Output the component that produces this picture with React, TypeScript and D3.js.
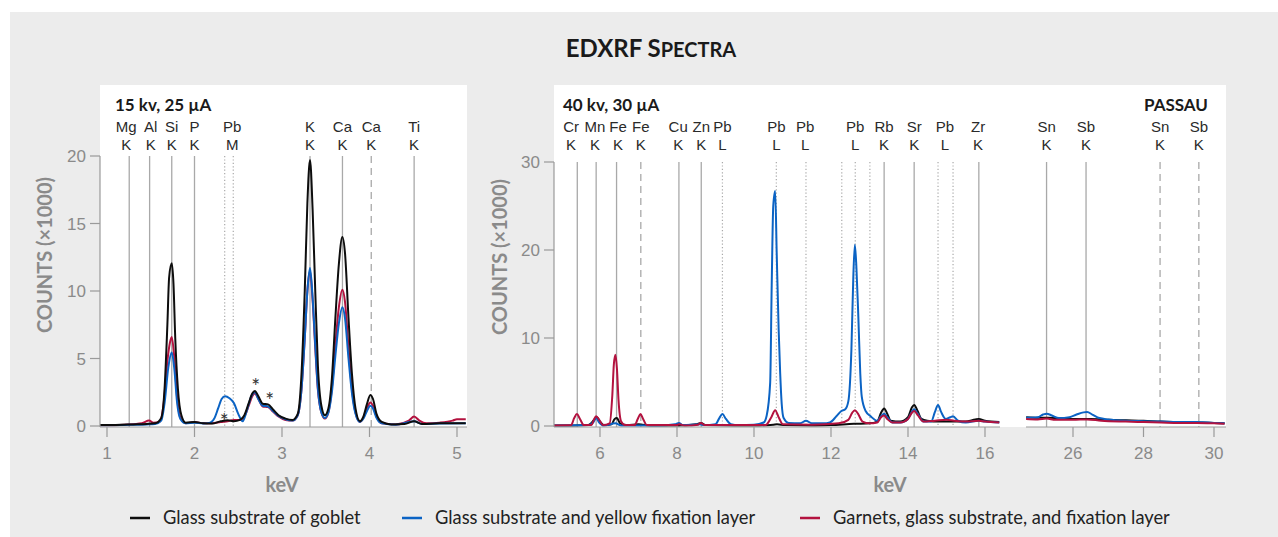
import React from 'react';
import * as d3 from 'd3';

type Pt = [number, number];

// ---------- tick values ----------
const lowKeVTicks = [1, 2, 3, 4, 5];
const lowCountTicks = [0, 5, 10, 15, 20];
const highKeVTicks = [6, 8, 10, 12, 14, 16];
const farKeVTicks = [26, 28, 30];
const highCountTicks = [0, 10, 20, 30];

// ---------- series names / colours ----------
const seriesNames = [
  'Glass substrate of goblet',
  'Glass substrate and yellow fixation layer',
  'Garnets, glass substrate, and fixation layer',
];
const seriesColors = ['#0d0d0d', '#0b63c4', '#b3123f'];

// ---------- 15 kV, 25 µA spectra (keV, counts ×1000) ----------
const lowGlass: Pt[] = [[0.92,0.07],[1.1,0.08],[1.3,0.12],[1.45,0.15],[1.55,0.2],[1.62,0.6],[1.66,3.0],[1.69,7.5],[1.71,11.0],[1.74,12.05],[1.76,10.5],[1.78,6.5],[1.81,2.8],[1.85,0.8],[1.9,0.25],[2.0,0.3],[2.1,0.2],[2.2,0.18],[2.3,0.35],[2.38,0.42],[2.45,0.35],[2.52,0.45],[2.57,0.8],[2.62,1.7],[2.66,2.4],[2.69,2.6],[2.73,2.2],[2.78,1.65],[2.84,1.6],[2.9,1.2],[2.96,0.8],[3.04,0.55],[3.12,0.45],[3.18,0.9],[3.22,3.5],[3.26,10.0],[3.29,16.5],[3.32,19.7],[3.35,16.0],[3.38,10.0],[3.41,4.5],[3.45,1.5],[3.49,0.8],[3.53,1.3],[3.57,3.5],[3.61,8.0],[3.65,12.0],[3.69,14.0],[3.72,12.8],[3.76,8.0],[3.8,3.8],[3.84,1.3],[3.89,0.35],[3.93,0.7],[3.97,1.6],[4.01,2.3],[4.04,2.0],[4.08,0.9],[4.14,0.3],[4.25,0.12],[4.4,0.15],[4.51,0.35],[4.6,0.15],[4.8,0.2],[5.1,0.2]];
const lowYellow: Pt[] = [[0.92,0.05],[1.2,0.08],[1.45,0.12],[1.55,0.15],[1.62,0.4],[1.66,1.8],[1.7,4.3],[1.74,5.45],[1.77,4.2],[1.8,1.8],[1.84,0.5],[1.9,0.2],[2.0,0.25],[2.1,0.18],[2.18,0.25],[2.23,0.6],[2.27,1.3],[2.31,2.0],[2.35,2.2],[2.4,2.05],[2.45,1.7],[2.5,0.9],[2.55,0.35],[2.6,1.2],[2.65,2.2],[2.69,2.5],[2.73,2.0],[2.78,1.5],[2.84,1.45],[2.9,1.1],[2.96,0.75],[3.04,0.5],[3.12,0.4],[3.18,0.8],[3.22,2.5],[3.26,6.5],[3.29,10.0],[3.32,11.7],[3.35,9.5],[3.38,6.0],[3.41,2.8],[3.45,1.0],[3.49,0.6],[3.53,1.0],[3.57,2.5],[3.61,5.2],[3.65,7.6],[3.69,8.8],[3.72,8.0],[3.76,5.0],[3.8,2.4],[3.84,0.9],[3.89,0.3],[3.93,0.55],[3.97,1.1],[4.01,1.5],[4.04,1.3],[4.08,0.6],[4.14,0.2],[4.3,0.1],[4.51,0.35],[4.6,0.15],[4.8,0.18],[5.1,0.2]];
const lowGarnet: Pt[] = [[0.92,0.05],[1.2,0.1],[1.4,0.2],[1.48,0.4],[1.53,0.25],[1.6,0.3],[1.65,1.8],[1.69,4.8],[1.72,6.2],[1.74,6.6],[1.77,5.0],[1.8,2.2],[1.84,0.6],[1.9,0.2],[2.0,0.3],[2.1,0.2],[2.2,0.2],[2.3,0.3],[2.38,0.35],[2.45,0.45],[2.52,0.45],[2.57,0.7],[2.62,1.5],[2.66,2.2],[2.69,2.4],[2.73,2.0],[2.78,1.45],[2.84,1.4],[2.9,1.05],[2.96,0.7],[3.04,0.45],[3.12,0.4],[3.18,0.8],[3.22,2.5],[3.26,6.5],[3.29,10.0],[3.32,11.5],[3.35,9.3],[3.38,5.8],[3.41,2.7],[3.45,1.0],[3.49,0.55],[3.53,1.0],[3.57,2.8],[3.61,6.0],[3.65,8.8],[3.69,10.1],[3.72,9.2],[3.76,5.8],[3.8,2.7],[3.84,1.0],[3.89,0.3],[3.93,0.6],[3.97,1.3],[4.01,1.75],[4.04,1.5],[4.08,0.7],[4.14,0.2],[4.3,0.12],[4.45,0.4],[4.51,0.7],[4.57,0.4],[4.65,0.2],[4.8,0.25],[4.95,0.4],[5.0,0.5],[5.1,0.5]];

// ---------- 40 kV, 30 µA spectra ----------
const highGlass: Pt[] = [[4.8,0.05],[5.3,0.05],[5.7,0.1],[5.85,0.7],[5.92,1.0],[6.0,0.5],[6.1,0.1],[6.3,0.2],[6.38,0.8],[6.44,0.9],[6.52,0.3],[6.7,0.1],[7.0,0.2],[7.1,0.15],[7.5,0.05],[8.0,0.05],[8.5,0.2],[8.62,0.35],[8.75,0.1],[9.5,0.05],[10.0,0.05],[10.5,0.15],[10.6,0.2],[10.8,0.1],[11.5,0.05],[12.0,0.1],[12.6,0.25],[13.0,0.3],[13.2,0.5],[13.3,1.5],[13.38,2.0],[13.46,1.4],[13.55,0.6],[13.8,0.5],[14.0,1.0],[14.1,2.1],[14.16,2.4],[14.25,1.7],[14.35,0.8],[14.5,0.6],[14.8,0.5],[15.2,0.5],[15.5,0.5],[15.75,0.75],[15.84,0.8],[16.0,0.6],[16.37,0.45]];
const highYellow: Pt[] = [[4.8,0.05],[5.7,0.1],[5.82,0.4],[5.9,0.9],[5.98,0.4],[6.1,0.05],[6.4,0.3],[6.55,0.05],[7.5,0.05],[7.95,0.2],[8.05,0.35],[8.15,0.1],[8.6,0.2],[8.7,0.1],[9.0,0.2],[9.1,0.9],[9.18,1.35],[9.27,0.8],[9.4,0.2],[9.6,0.1],[10.0,0.15],[10.25,0.4],[10.33,1.2],[10.42,4.9],[10.46,16],[10.5,25],[10.55,26.7],[10.59,19.6],[10.64,11.0],[10.68,6.0],[10.72,2.5],[10.77,0.9],[10.9,0.35],[11.2,0.3],[11.35,0.6],[11.5,0.3],[11.8,0.3],[11.97,0.4],[12.14,1.1],[12.27,1.7],[12.37,1.9],[12.45,2.8],[12.53,8.7],[12.58,17],[12.62,20.6],[12.66,18],[12.71,12.4],[12.76,6.0],[12.8,3.3],[12.9,1.7],[13.03,1.1],[13.2,0.6],[13.3,1.1],[13.38,1.4],[13.46,1.0],[13.6,0.4],[13.8,0.4],[14.0,0.8],[14.1,1.6],[14.16,1.9],[14.25,1.4],[14.4,0.5],[14.6,0.5],[14.7,1.6],[14.78,2.4],[14.86,1.6],[14.98,0.8],[15.1,1.0],[15.17,1.1],[15.3,0.6],[15.5,0.4],[15.84,0.6],[16.0,0.5],[16.37,0.4]];
const highGarnet: Pt[] = [[4.8,0.05],[5.25,0.1],[5.33,0.9],[5.4,1.35],[5.48,0.8],[5.58,0.1],[5.78,0.1],[5.84,0.7],[5.9,1.1],[5.98,0.7],[6.08,0.1],[6.25,0.3],[6.32,3.5],[6.36,7.0],[6.4,8.1],[6.44,6.5],[6.48,3.0],[6.55,0.5],[6.65,0.1],[6.9,0.1],[6.98,0.8],[7.05,1.35],[7.12,0.8],[7.22,0.1],[8.0,0.1],[8.05,0.2],[8.2,0.05],[8.55,0.15],[8.62,0.35],[8.72,0.1],[10.3,0.1],[10.45,1.0],[10.55,1.8],[10.64,1.0],[10.75,0.2],[11.5,0.15],[12.2,0.3],[12.45,0.7],[12.55,1.5],[12.62,1.8],[12.7,1.4],[12.82,0.5],[13.0,0.3],[13.2,0.4],[13.3,1.0],[13.38,1.2],[13.46,0.8],[13.6,0.4],[13.8,0.4],[14.0,0.8],[14.1,1.5],[14.16,1.7],[14.26,1.2],[14.4,0.5],[14.7,0.6],[15.0,0.7],[15.2,0.6],[15.5,0.5],[15.84,0.6],[16.0,0.5],[16.37,0.4]];
const farGlass: Pt[] = [[24.67,1.0],[25.0,0.95],[25.3,0.95],[25.6,0.85],[26.0,0.8],[26.5,0.8],[27.0,0.7],[27.5,0.65],[28.0,0.6],[28.5,0.5],[29.0,0.45],[29.5,0.4],[30.0,0.35],[30.3,0.3]];
const farYellow: Pt[] = [[24.67,0.95],[25.0,1.0],[25.15,1.3],[25.25,1.4],[25.4,1.2],[25.6,0.9],[25.9,1.0],[26.1,1.3],[26.3,1.55],[26.4,1.6],[26.55,1.3],[26.75,0.9],[27.0,0.75],[27.5,0.6],[28.0,0.55],[28.5,0.5],[29.0,0.45],[29.5,0.45],[30.0,0.35],[30.3,0.3]];
const farGarnet: Pt[] = [[24.67,0.8],[25.0,0.75],[25.25,0.85],[25.5,0.7],[26.0,0.7],[26.4,0.75],[26.8,0.6],[27.5,0.5],[28.0,0.45],[28.5,0.4],[29.0,0.35],[29.5,0.35],[30.0,0.3],[30.3,0.25]];

// ---------- emission lines (keV) ----------
type RefLine = { e: number; kind: 'solid' | 'dashed' | 'dotted' };
type RefLabel = { top: string; bottom: string; e: number };
const lowLines: RefLine[] = [
  { e: 1.254, kind: 'solid' }, { e: 1.487, kind: 'solid' }, { e: 1.74, kind: 'solid' },
  { e: 2.0, kind: 'solid' }, { e: 2.345, kind: 'dotted' }, { e: 2.443, kind: 'dotted' },
  { e: 3.32, kind: 'solid' }, { e: 3.691, kind: 'solid' }, { e: 4.02, kind: 'dashed' },
  { e: 4.51, kind: 'solid' },
];
const lowLabels: RefLabel[] = [
  { top: 'Mg', bottom: 'K', e: 1.22 }, { top: 'Al', bottom: 'K', e: 1.5 },
  { top: 'Si', bottom: 'K', e: 1.74 }, { top: 'P', bottom: 'K', e: 2.0 },
  { top: 'Pb', bottom: 'M', e: 2.43 }, { top: 'K', bottom: 'K', e: 3.32 },
  { top: 'Ca', bottom: 'K', e: 3.691 }, { top: 'Ca', bottom: 'K', e: 4.02 },
  { top: 'Ti', bottom: 'K', e: 4.51 },
];
const highLines: RefLine[] = [
  { e: 5.41, kind: 'solid' }, { e: 5.9, kind: 'solid' }, { e: 6.43, kind: 'solid' },
  { e: 7.06, kind: 'dashed' }, { e: 8.05, kind: 'solid' }, { e: 8.63, kind: 'solid' },
  { e: 9.18, kind: 'dotted' }, { e: 10.58, kind: 'dotted' }, { e: 11.35, kind: 'dotted' },
  { e: 12.28, kind: 'dotted' }, { e: 12.63, kind: 'dotted' }, { e: 13.01, kind: 'dotted' },
  { e: 13.38, kind: 'solid' }, { e: 14.16, kind: 'solid' }, { e: 14.78, kind: 'dotted' },
  { e: 15.17, kind: 'dotted' }, { e: 15.84, kind: 'solid' },
];
const highLabels: RefLabel[] = [
  { top: 'Cr', bottom: 'K', e: 5.25 }, { top: 'Mn', bottom: 'K', e: 5.87 },
  { top: 'Fe', bottom: 'K', e: 6.47 }, { top: 'Fe', bottom: 'K', e: 7.06 },
  { top: 'Cu', bottom: 'K', e: 8.03 }, { top: 'Zn', bottom: 'K', e: 8.63 },
  { top: 'Pb', bottom: 'L', e: 9.18 }, { top: 'Pb', bottom: 'L', e: 10.58 },
  { top: 'Pb', bottom: 'L', e: 11.33 }, { top: 'Pb', bottom: 'L', e: 12.63 },
  { top: 'Rb', bottom: 'K', e: 13.38 }, { top: 'Sr', bottom: 'K', e: 14.16 },
  { top: 'Pb', bottom: 'L', e: 14.96 }, { top: 'Zr', bottom: 'K', e: 15.82 },
];
const farLines: RefLine[] = [
  { e: 25.25, kind: 'solid' }, { e: 26.37, kind: 'solid' },
  { e: 28.47, kind: 'dashed' }, { e: 29.57, kind: 'dashed' },
];
const farLabels: RefLabel[] = [
  { top: 'Sn', bottom: 'K', e: 25.25 }, { top: 'Sb', bottom: 'K', e: 26.37 },
  { top: 'Sn', bottom: 'K', e: 28.47 }, { top: 'Sb', bottom: 'K', e: 29.57 },
];
// asterisk annotations (keV, counts)
const lowAsterisks: Pt[] = [[2.34, 0.7], [2.7, 3.26], [2.86, 2.2]];

// ---------- layout ----------
const W = 1278, H = 537;
const LABEL_FONT = 'Lato, "Open Sans", sans-serif';
const ELEM_FONT = '"Liberation Sans", Arial, sans-serif';
const TICK_FONT = '"Liberation Sans", Arial, sans-serif';
const GRAY = '#8a8a8a';
const REF = '#a9a9a9';

const xLow = d3.scaleLinear().domain([1, 5]).range([107, 457]);
const yLow = d3.scaleLinear().domain([0, 20]).range([426, 156]);
const xHigh = d3.scaleLinear().domain([6, 16]).range([600, 985]);
const xFar = d3.scaleLinear().domain([26, 30]).range([1073, 1214]);
const yHigh = d3.scaleLinear().domain([0, 30]).range([426, 162]);

const dashFor = (k: string) => (k === 'dashed' ? '7,5' : k === 'dotted' ? '1.2,2.2' : undefined);

function Lines({ lines, x, top, bottom }: { lines: RefLine[]; x: d3.ScaleLinear<number, number>; top: number; bottom: number }) {
  return (
    <g>
      {lines.map((l, i) => (
        <line key={i} x1={x(l.e)} x2={x(l.e)} y1={top} y2={bottom} stroke={REF}
          strokeWidth={l.kind === 'dotted' ? 1.2 : 1.3} strokeDasharray={dashFor(l.kind)} />
      ))}
    </g>
  );
}

function Labels({ labels, x }: { labels: RefLabel[]; x: d3.ScaleLinear<number, number> }) {
  return (
    <g fontFamily={ELEM_FONT} fontSize={15} fill="#2a2a2a" textAnchor="middle">
      {labels.map((l, i) => (
        <g key={i}>
          <text x={x(l.e)} y={132}>{l.top}</text>
          <text x={x(l.e)} y={149.5}>{l.bottom}</text>
        </g>
      ))}
    </g>
  );
}

function Series({ data, x, y, color, clip }: { data: Pt[]; x: d3.ScaleLinear<number, number>; y: d3.ScaleLinear<number, number>; color: string; clip: string }) {
  const gen = d3.line<Pt>().x((d) => x(d[0])).y((d) => y(d[1])).curve(d3.curveMonotoneX);
  return <path d={gen(data) || ''} fill="none" stroke={color} strokeWidth={2} strokeLinejoin="round" clipPath={`url(#${clip})`} />;
}

function XAxis({ x, ticks, from, to }: { x: d3.ScaleLinear<number, number>; ticks: number[]; from: number; to: number }) {
  return (
    <g>
      <line x1={from} x2={to} y1={427} y2={427} stroke="#9a9a9a" strokeWidth={1} />
      {ticks.map((t) => (
        <g key={t}>
          <line x1={x(t)} x2={x(t)} y1={427} y2={437} stroke="#9a9a9a" strokeWidth={1.2} />
          <text x={x(t)} y={459} textAnchor="middle" fontFamily={TICK_FONT} fontSize={17} fill={GRAY}>{t}</text>
        </g>
      ))}
    </g>
  );
}

function YAxis({ y, ticks, x0, top }: { y: d3.ScaleLinear<number, number>; ticks: number[]; x0: number; top: number }) {
  return (
    <g>
      <line x1={x0} x2={x0} y1={top} y2={427} stroke="#9a9a9a" strokeWidth={1.2} />
      {ticks.map((t) => (
        <g key={t}>
          <line x1={x0 - 10} x2={x0} y1={y(t)} y2={y(t)} stroke="#9a9a9a" strokeWidth={1.2} />
          <text x={x0 - 14} y={y(t) + 6} textAnchor="end" fontFamily={TICK_FONT} fontSize={17} fill={GRAY}>{t}</text>
        </g>
      ))}
    </g>
  );
}

export default function App() {
  const lowSeries = [lowGarnet, lowYellow, lowGlass];
  const lowColors = [seriesColors[2], seriesColors[1], seriesColors[0]];
  const highSeries = [highGlass, highYellow, highGarnet];
  const farSeries = [farGlass, farYellow, farGarnet];
  const highColors = [seriesColors[0], seriesColors[1], seriesColors[2]];
  const legendX = [130, 402, 800];

  return (
    <svg width={W} height={H} viewBox={`0 0 ${W} ${H}`} style={{ position: 'absolute', left: 0, top: 0 }}>
      <defs>
        <clipPath id="cLow"><rect x={100} y={85} width={367} height={342} /></clipPath>
        <clipPath id="cHigh"><rect x={554} y={85} width={446} height={342} /></clipPath>
        <clipPath id="cFar"><rect x={1026} y={85} width={200} height={342} /></clipPath>
      </defs>
      <rect x={0} y={0} width={W} height={H} fill="#fff" />
      <rect x={10} y={12} width={W - 10} height={H - 12} fill="#ececec" />

      {/* Title */}
      <text x={651} y={57} textAnchor="middle" fontFamily={LABEL_FONT} fontWeight={700} fill="#1a1a1a" fontSize={24}>
        EDXRF S<tspan fontSize={20}>PECTRA</tspan>
      </text>

      {/* panels */}
      <rect x={100} y={85} width={367} height={342} fill="#fff" />
      <rect x={554} y={85} width={672} height={342} fill="#fff" />

      {/* panel headers */}
      <g fontFamily={LABEL_FONT} fontWeight={700} fontSize={17} fill="#1a1a1a">
        <text x={115} y={111}>15 kv, 25 µA</text>
        <text x={563} y={111}>40 kv, 30 µA</text>
        <text x={1208} y={111} textAnchor="end">PASSAU</text>
      </g>

      <Labels labels={lowLabels} x={xLow} />
      <Labels labels={highLabels} x={xHigh} />
      <Labels labels={farLabels} x={xFar} />

      <Lines lines={lowLines} x={xLow} top={156} bottom={427} />
      <Lines lines={highLines} x={xHigh} top={162} bottom={427} />
      <Lines lines={farLines} x={xFar} top={162} bottom={427} />

      {lowSeries.map((s, i) => <Series key={'l' + i} data={s} x={xLow} y={yLow} color={lowColors[i]} clip="cLow" />)}
      {highSeries.map((s, i) => <Series key={'h' + i} data={s} x={xHigh} y={yHigh} color={highColors[i]} clip="cHigh" />)}
      {farSeries.map((s, i) => <Series key={'f' + i} data={s} x={xFar} y={yHigh} color={highColors[i]} clip="cFar" />)}

      {lowAsterisks.map((a, i) => (
        <text key={i} x={xLow(a[0])} y={yLow(a[1]) + 12} textAnchor="middle" fontFamily={LABEL_FONT} fontSize={21} fill="#333">*</text>
      ))}

      <YAxis y={yLow} ticks={lowCountTicks} x0={100} top={156} />
      <YAxis y={yHigh} ticks={highCountTicks} x0={554} top={162} />
      <XAxis x={xLow} ticks={lowKeVTicks} from={100} to={467} />
      <XAxis x={xHigh} ticks={highKeVTicks} from={554} to={1000} />
      <XAxis x={xFar} ticks={farKeVTicks} from={1026} to={1226} />

      {/* axis titles */}
      <g fontFamily={LABEL_FONT} fontWeight={700} fontSize={20} fill={GRAY} textAnchor="middle">
        <text transform="translate(52,255) rotate(-90)">COUNTS (×1000)</text>
        <text transform="translate(507,257) rotate(-90)">COUNTS (×1000)</text>
        <text x={282} y={492}>keV</text>
        <text x={890} y={492}>keV</text>
      </g>

      {/* legend */}
      <g fontFamily={LABEL_FONT} fontSize={18.3} fill="#222">
        {seriesNames.map((n, i) => (
          <g key={n}>
            <line x1={legendX[i]} x2={legendX[i] + 20} y1={518} y2={518} stroke={seriesColors[i]} strokeWidth={2.5} />
            <text x={legendX[i] + 33} y={524}>{n}</text>
          </g>
        ))}
      </g>
    </svg>
  );
}
